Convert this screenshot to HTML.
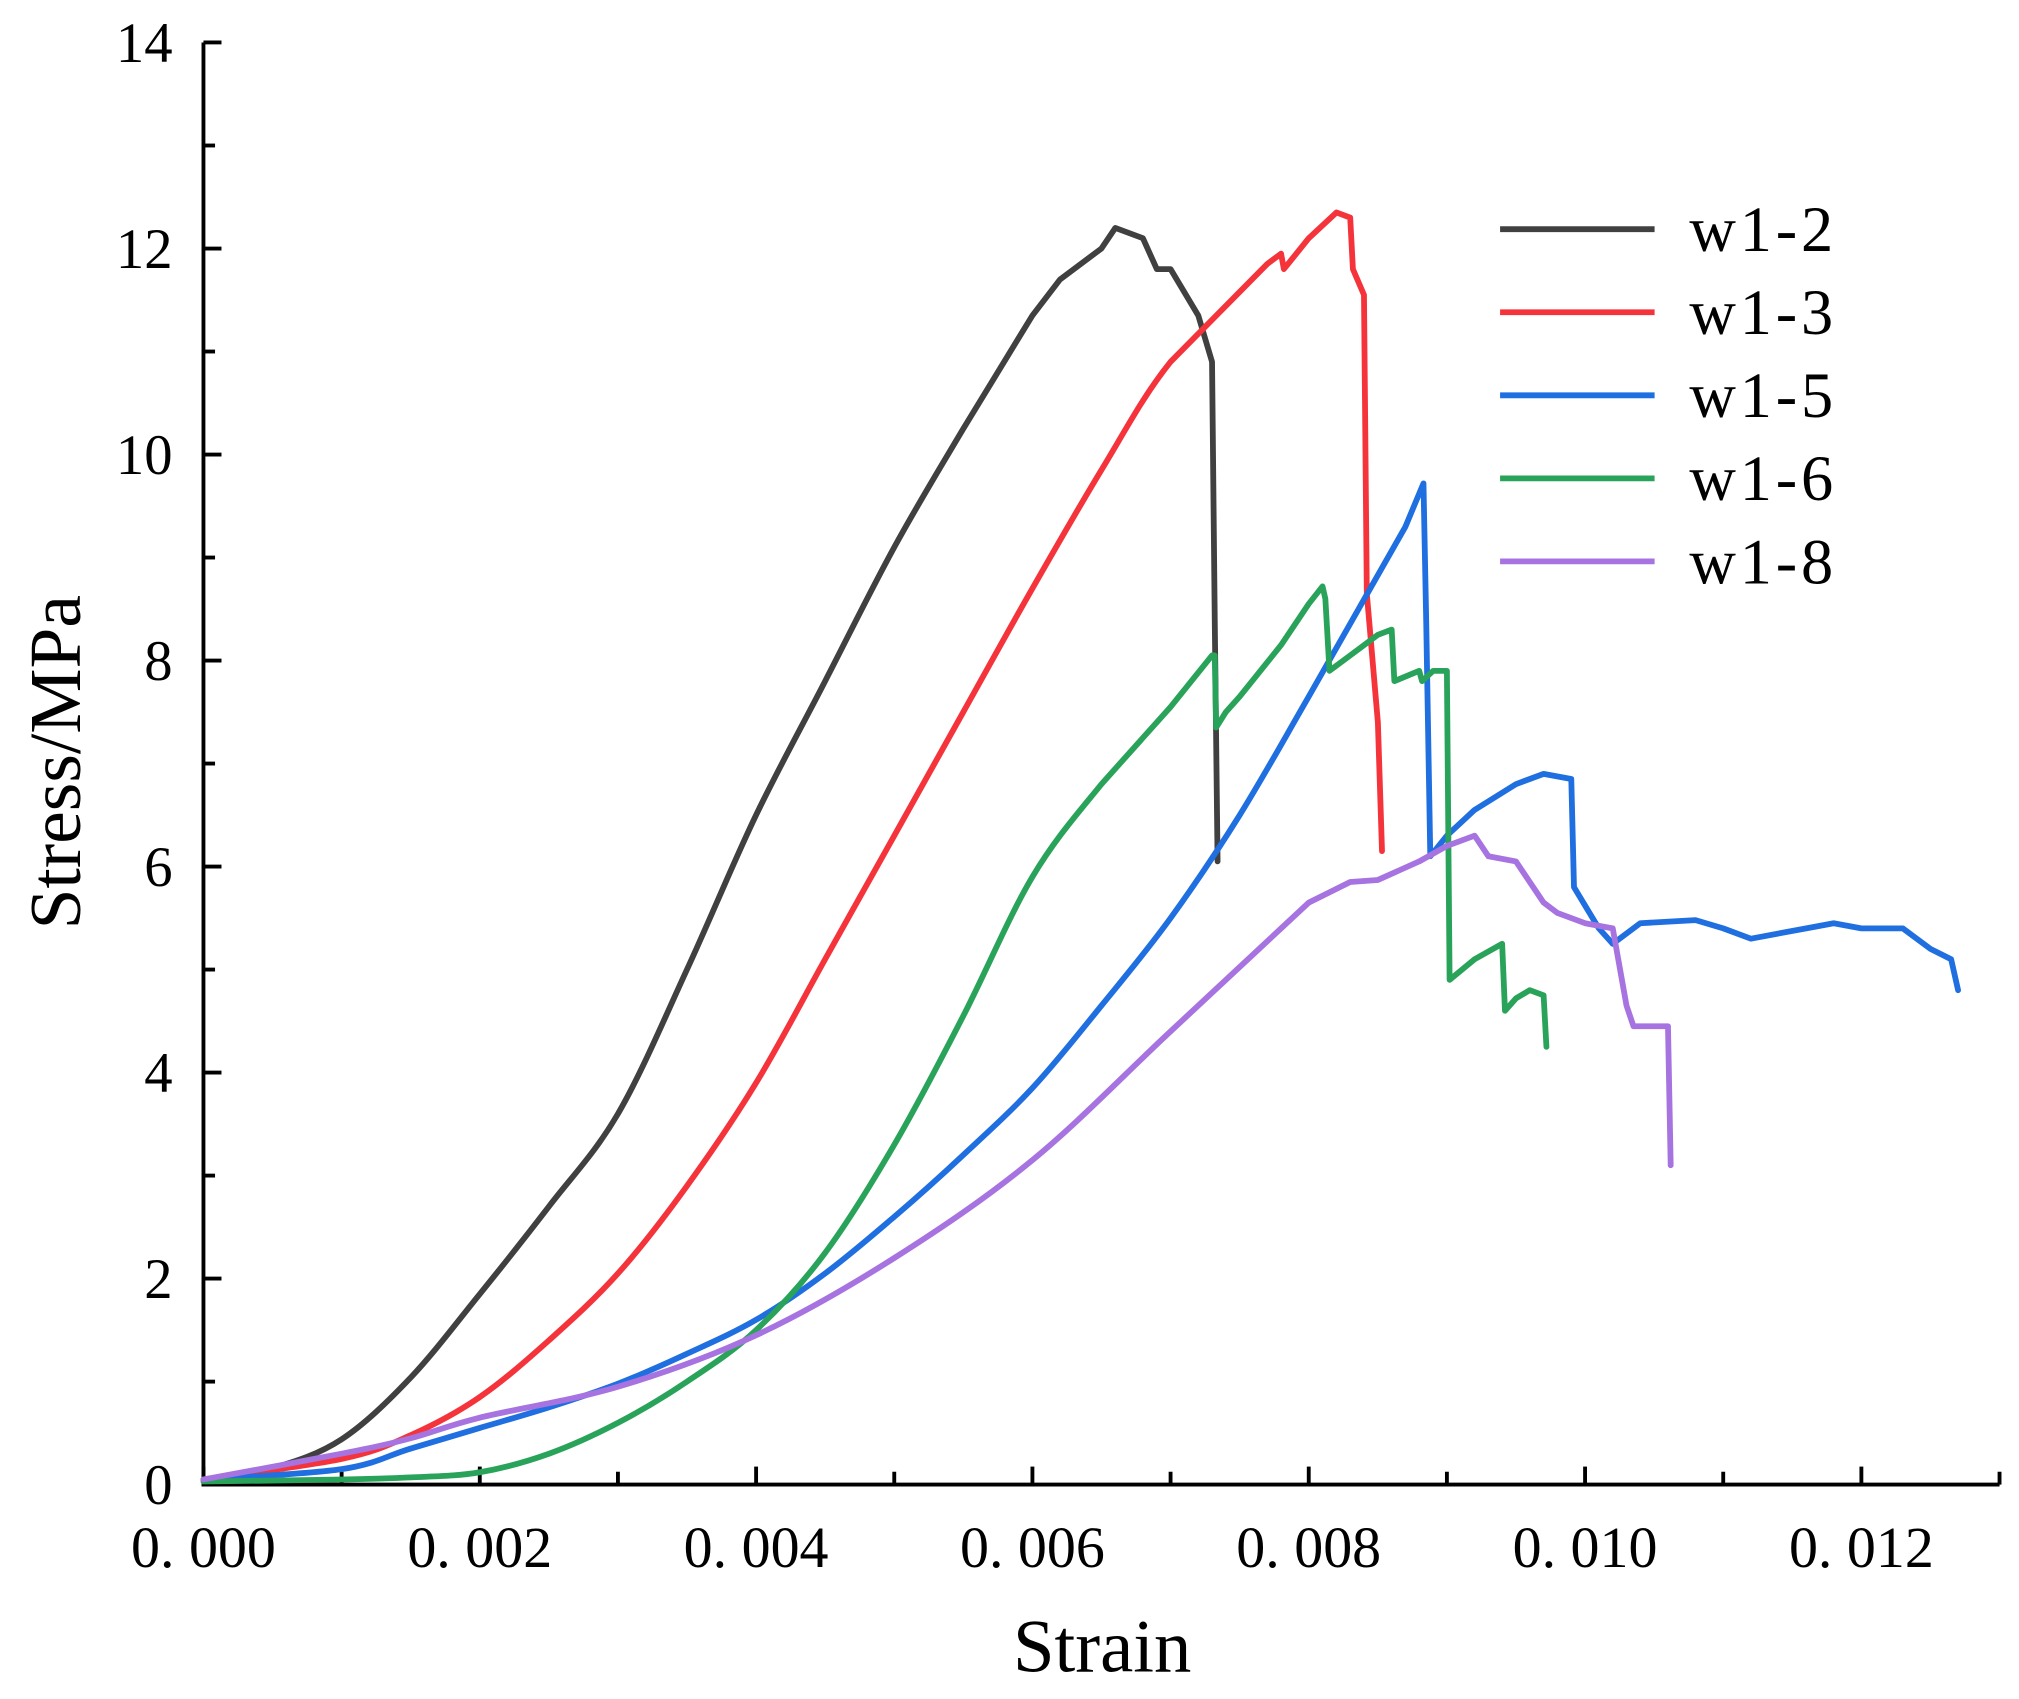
<!DOCTYPE html>
<html><head><meta charset="utf-8"><style>
html,body{margin:0;padding:0;background:#fff;}
svg{display:block;}
text{font-family:"Liberation Serif","Noto Serif CJK SC",serif;fill:#000;}
</style></head><body>
<svg id="chart" width="2019" height="1699" viewBox="0 0 1568 1319.5" xmlns="http://www.w3.org/2000/svg">
<g id="axes"></g>
<g id="series"></g>
<g id="legend"></g>
<text x="856" y="1298" font-size="58" text-anchor="middle">Strain</text>
<text x="0" y="0" font-size="57" text-anchor="middle" transform="translate(62,592) rotate(-90)">Stress/MPa</text>
</svg>
<script>
const xTicks = [0, 0.002, 0.004, 0.006, 0.008, 0.010, 0.012];
const xTickLabels = ["0. 000","0. 002","0. 004","0. 006","0. 008","0. 010","0. 012"];
const yTicks = [0, 2, 4, 6, 8, 10, 12, 14];
const yTickLabels = ["0","2","4","6","8","10","12","14"];
const seriesNames = ["w1-2","w1-3","w1-5","w1-6","w1-8"];
const seriesColors = ["#404040","#f5333a","#1f6fe0","#2aa35a","#a673e0"];

const w12x = [0,0.0005,0.001,0.0015,0.002,0.0025,0.003,0.0035,0.004,0.0045,0.005,0.0055,0.006,0.0062,0.0065,0.0066,0.0068,0.0069,0.007,0.0072,0.0073,0.00732,0.00734];
const w12y = [0.05,0.16,0.44,1.04,1.85,2.7,3.6,5.0,6.5,7.8,9.1,10.25,11.35,11.7,12.0,12.2,12.1,11.8,11.8,11.35,10.9,8.4,6.05];
const w13x = [0,0.001,0.0015,0.002,0.0025,0.003,0.0035,0.004,0.0045,0.005,0.0055,0.006,0.0065,0.007,0.0077,0.0078,0.00782,0.008,0.0082,0.0083,0.00832,0.0084,0.00842,0.0085,0.00853];
const w13y = [0.05,0.25,0.48,0.85,1.4,2.05,2.9,3.9,5.1,6.3,7.5,8.7,9.85,10.9,11.85,11.95,11.8,12.1,12.35,12.3,11.8,11.55,8.65,7.4,6.15];
const w15x = [0,0.001,0.0015,0.002,0.0025,0.003,0.0035,0.004,0.0045,0.005,0.0055,0.006,0.0065,0.007,0.0075,0.008,0.0087,0.00883,0.00885,0.00888,0.009,0.0092,0.0095,0.0097,0.0099,0.00992,0.0101,0.0102,0.0104,0.0108,0.011,0.0112,0.0116,0.0118,0.012,0.0123,0.0125,0.01265,0.0127];
const w15y = [0.05,0.15,0.35,0.55,0.75,0.98,1.27,1.6,2.05,2.6,3.2,3.85,4.65,5.5,6.5,7.65,9.3,9.72,8.4,6.1,6.3,6.55,6.8,6.9,6.85,5.8,5.4,5.25,5.45,5.48,5.4,5.3,5.4,5.45,5.4,5.4,5.2,5.1,4.8];
const w16x = [0,0.001,0.0015,0.002,0.0025,0.003,0.0035,0.004,0.0045,0.005,0.0055,0.006,0.0065,0.007,0.0073,0.00732,0.00733,0.0074,0.0075,0.0078,0.008,0.0081,0.00812,0.00815,0.0083,0.0085,0.0086,0.00862,0.0088,0.00882,0.0089,0.009,0.00902,0.0092,0.0094,0.00942,0.0095,0.0096,0.0097,0.00972];
const w16y = [0.03,0.05,0.07,0.12,0.3,0.6,1.0,1.5,2.25,3.3,4.55,5.9,6.8,7.55,8.05,8.05,7.35,7.5,7.65,8.15,8.55,8.72,8.6,7.9,8.05,8.25,8.3,7.8,7.9,7.8,7.9,7.9,4.9,5.1,5.25,4.6,4.72,4.8,4.75,4.25];
const w18x = [0,0.001,0.0015,0.002,0.003,0.004,0.005,0.006,0.007,0.008,0.0083,0.0085,0.0088,0.009,0.0092,0.0093,0.0095,0.0097,0.0098,0.01,0.0102,0.0103,0.01035,0.0106,0.01062];
const w18y = [0.05,0.3,0.45,0.65,0.95,1.45,2.2,3.15,4.4,5.65,5.85,5.87,6.05,6.2,6.3,6.1,6.05,5.65,5.55,5.45,5.4,4.65,4.45,4.45,3.1];

const X0 = 158, XPER = 214.6/0.002, Y0 = 1153, YPER = 80;
function sx(v){ return X0 + v*XPER; }
function sy(v){ return Y0 - v*YPER; }
const NS = "http://www.w3.org/2000/svg";
function mk(tag, attrs, parent){
  const e = document.createElementNS(NS, tag);
  for (const k in attrs) e.setAttribute(k, attrs[k]);
  parent.appendChild(e); return e;
}
const axes = document.getElementById('axes');
const xEnd = sx(0.013);
let ax = mk('path', {d:`M${X0},${sy(14)} L${X0},${Y0} L${xEnd},${Y0}`, fill:'none', stroke:'#000', 'stroke-width':3}, axes);


for (let i = 0; i <= 13; i++) {
  const v = i*0.001, major = i % 2 === 0;
  const t = mk('line', {x1:sx(v), x2:sx(v), y1:Y0, y2:Y0-(major?14:10), stroke:'#000', 'stroke-width':3}, axes);
  
  
}
xTicks.forEach((v, i) => {
  const t = mk('text', {x:sx(v), y:Y0+64, 'font-size':45, 'text-anchor':'middle'}, axes);
  t.textContent = xTickLabels[i];
  
  
});
for (let i = 0; i <= 14; i++) {
  const major = i % 2 === 0;
  const t = mk('line', {x1:X0, x2:X0+(major?14:9), y1:sy(i), y2:sy(i), stroke:'#000', 'stroke-width':3}, axes);
  
  
}
yTicks.forEach((v, i) => {
  const t = mk('text', {x:134, y:sy(v)+15, 'font-size':44, 'text-anchor':'end'}, axes);
  t.textContent = yTickLabels[i];
  
  
});
function buildPath(xs, ys){
  const P = xs.map((x, i) => [sx(x), sy(ys[i])]);
  let d = 'M' + P[0][0].toFixed(1) + ',' + P[0][1].toFixed(1);
  for (let i = 0; i < P.length - 1; i++) {
    const smooth = (xs[i+1] - xs[i]) >= 0.00045 && (i === 0 || xs[i] - xs[i-1] >= 0.00045) && (i + 2 >= P.length || xs[i+2] - xs[i+1] >= 0.00045);
    if (smooth) {
      const p0 = P[i-1] || P[i], p1 = P[i], p2 = P[i+1], p3 = P[i+2] || P[i+1];
      const c1 = [p1[0] + (p2[0]-p0[0])/6, p1[1] + (p2[1]-p0[1])/6];
      const c2 = [p2[0] - (p3[0]-p1[0])/6, p2[1] - (p3[1]-p1[1])/6];
      d += ` C${c1[0].toFixed(1)},${c1[1].toFixed(1)} ${c2[0].toFixed(1)},${c2[1].toFixed(1)} ${p2[0].toFixed(1)},${p2[1].toFixed(1)}`;
    } else {
      d += ` L${P[i+1][0].toFixed(1)},${P[i+1][1].toFixed(1)}`;
    }
  }
  return d;
}
const sg = document.getElementById('series');
const allX = [w12x, w13x, w15x, w16x, w18x], allY = [w12y, w13y, w15y, w16y, w18y];
allX.forEach((xs, s) => {
  const p = mk('path', {d:buildPath(xs, allY[s]), fill:'none', stroke:seriesColors[s], 'stroke-width':4.5, 'stroke-linejoin':'round', 'stroke-linecap':'round'}, sg);
  
  
});
const lg = document.getElementById('legend');
seriesNames.forEach((n, i) => {
  const y = 178 + i*64.5;
  const l = mk('line', {x1:1165, x2:1285, y1:y, y2:y, stroke:seriesColors[i], 'stroke-width':4.5}, lg);
  
  
  const t = mk('text', {x:1312, y:y+17, 'font-size':50, 'letter-spacing':'3'}, lg);
  t.textContent = n;
  
  
});
</script>
</body></html>
